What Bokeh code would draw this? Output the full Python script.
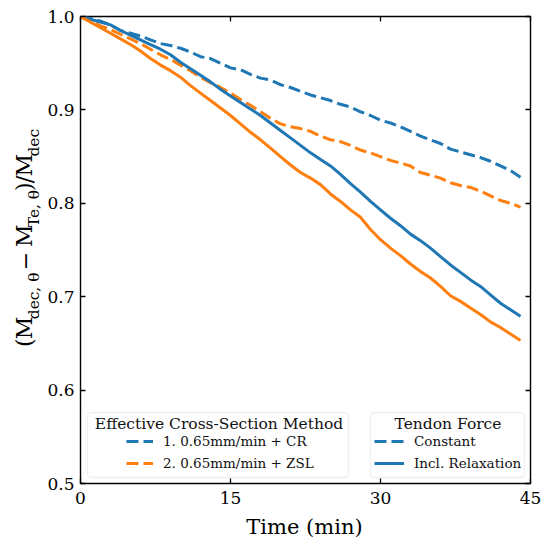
import math
from bokeh.plotting import figure
from bokeh.layouts import row, column
from bokeh.models import (Legend, LegendItem, Label, BoxAnnotation, FixedTicker, Range1d,
                          LinearAxis, PrintfTickFormatter)
from bokeh.embed import file_html
from bokeh.resources import INLINE

# ---------------- data ----------------
time_min = list(range(0, 45))

cr_constant = [1.000, 0.998, 0.995, 0.991, 0.985, 0.982, 0.979, 0.975, 0.971, 0.969,
               0.966, 0.962, 0.957, 0.955, 0.950, 0.945, 0.943, 0.938, 0.934, 0.932,
               0.927, 0.924, 0.920, 0.916, 0.913, 0.910, 0.906, 0.903, 0.898, 0.894,
               0.889, 0.886, 0.882, 0.877, 0.872, 0.868, 0.864, 0.858, 0.855, 0.852,
               0.849, 0.845, 0.840, 0.835, 0.828]

zsl_constant = [1.000, 0.995, 0.990, 0.986, 0.981, 0.976, 0.971, 0.965, 0.959, 0.954,
                0.948, 0.942, 0.935, 0.929, 0.924, 0.918, 0.911, 0.905, 0.898, 0.891,
                0.885, 0.882, 0.880, 0.877, 0.872, 0.868, 0.866, 0.862, 0.857, 0.854,
                0.850, 0.846, 0.843, 0.840, 0.833, 0.830, 0.827, 0.822, 0.819, 0.817,
                0.813, 0.808, 0.803, 0.800, 0.796]

cr_relax = [1.000, 0.997, 0.994, 0.991, 0.985, 0.980, 0.975, 0.970, 0.965, 0.959,
            0.951, 0.944, 0.937, 0.930, 0.922, 0.915, 0.908, 0.901, 0.894, 0.886,
            0.878, 0.870, 0.862, 0.854, 0.847, 0.840, 0.831, 0.821, 0.812, 0.802,
            0.793, 0.784, 0.776, 0.767, 0.760, 0.752, 0.743, 0.734, 0.726, 0.718,
            0.711, 0.702, 0.693, 0.686, 0.679]

zsl_relax = [1.000, 0.994, 0.988, 0.982, 0.976, 0.970, 0.963, 0.955, 0.948, 0.942,
             0.935, 0.926, 0.918, 0.910, 0.902, 0.894, 0.885, 0.876, 0.868, 0.859,
             0.850, 0.841, 0.833, 0.827, 0.820, 0.810, 0.802, 0.793, 0.785, 0.772,
             0.761, 0.752, 0.744, 0.735, 0.727, 0.720, 0.711, 0.701, 0.695, 0.688,
             0.681, 0.673, 0.667, 0.660, 0.653]

x_ticks = [0, 15, 30, 45]
y_ticks = [0.5, 0.6, 0.7, 0.8, 0.9, 1.0]

legend1_title = "Effective Cross-Section Method"
legend1_labels = ["1. 0.65mm/min + CR", "2. 0.65mm/min + ZSL"]
legend2_title = "Tendon Force"
legend2_labels = ["Constant", "Incl. Relaxation"]
x_label = "Time (min)"

# ---------------- style ----------------
BLUE = "#1f77b4"
ORANGE = "#ff7f0e"
SERIF = "DejaVu Serif"
LW = 3
DASH = "12 5"

YLAB_W = 44
MAIN_H = 513
TOTAL_W = 541
TOTAL_H = 539
FRAME_L = 79

p = figure(frame_width=450, frame_height=467,
           min_border_left=FRAME_L - YLAB_W,
           min_border_right=TOTAL_W - FRAME_L - 450,
           min_border_top=16, min_border_bottom=MAIN_H - 16 - 467,
           x_range=Range1d(0, 45), y_range=Range1d(0.5, 1.0),
           output_backend="svg", toolbar_location=None,
           background_fill_color="white", border_fill_color="white")

p.grid.visible = False
p.outline_line_color = "black"
p.outline_line_width = 1.4

for ax in (p.xaxis[0], p.yaxis[0]):
    ax.axis_label = None
    ax.axis_line_color = None
    ax.major_tick_in = 5
    ax.major_tick_out = 0
    ax.minor_tick_line_color = None
    ax.major_tick_line_color = "black"
    ax.major_tick_line_width = 1.3
    ax.major_label_text_font = SERIF
    ax.major_label_text_font_size = "17px"
    ax.major_label_text_color = "black"

p.xaxis[0].ticker = FixedTicker(ticks=x_ticks)
p.yaxis[0].ticker = FixedTicker(ticks=y_ticks)
p.yaxis[0].formatter = PrintfTickFormatter(format="%.1f")
p.xaxis[0].major_label_standoff = 8
p.yaxis[0].major_label_standoff = 6

for loc, tk in (("above", x_ticks), ("right", y_ticks)):
    a = LinearAxis(ticker=FixedTicker(ticks=tk), axis_line_color=None,
                   major_tick_in=5, major_tick_out=0, minor_tick_line_color=None,
                   major_tick_line_color="black", major_tick_line_width=1.3,
                   major_label_text_font_size="0px", major_label_standoff=0,
                   major_label_text_alpha=0)
    p.add_layout(a, loc)

# ---------------- lines ----------------
r_cr_c = p.line(time_min, cr_constant, line_color=BLUE, line_width=LW, line_dash=DASH)
r_zsl_c = p.line(time_min, zsl_constant, line_color=ORANGE, line_width=LW, line_dash=DASH)
r_cr_r = p.line(time_min, cr_relax, line_color=BLUE, line_width=LW)
r_zsl_r = p.line(time_min, zsl_relax, line_color=ORANGE, line_width=LW)

# ---------------- legends ----------------
box_kw = dict(fill_color="white", fill_alpha=0.8, line_color="#cccccc", line_width=1.3,
              border_radius=4)
p.add_layout(BoxAnnotation(left=0.7, right=26.8, bottom=0.5064, top=0.576, **box_kw))
p.add_layout(BoxAnnotation(left=29.0, right=44.4, bottom=0.5064, top=0.576, **box_kw))

leg_kw = dict(border_line_color=None, background_fill_alpha=0, padding=0, margin=0,
              spacing=6, label_height=14, glyph_height=14, label_standoff=10,
              label_text_font=SERIF, label_text_font_size="13.5px",
              label_text_color="#111111")
leg1 = Legend(items=[LegendItem(label=legend1_labels[0], renderers=[r_cr_c]),
                     LegendItem(label=legend1_labels[1], renderers=[r_zsl_c])],
              location=(46, 12), glyph_width=27, **leg_kw)
leg2 = Legend(items=[LegendItem(label=legend2_labels[0], renderers=[r_cr_c]),
                     LegendItem(label=legend2_labels[1], renderers=[r_cr_r])],
              location=(294, 12), glyph_width=30, **leg_kw)
p.add_layout(leg1)
p.add_layout(leg2)

title_kw = dict(text_font=SERIF, text_font_size="15.5px", text_align="center",
                text_baseline="middle", text_color="#111111")
p.add_layout(Label(x=13.85, y=0.5642, text=legend1_title, **title_kw))
p.add_layout(Label(x=36.75, y=0.5642, text=legend2_title, **title_kw))

# ---------------- y label panel (pixel coordinates) ----------------
ylab = figure(width=YLAB_W, height=MAIN_H, x_range=Range1d(0, YLAB_W),
              y_range=Range1d(MAIN_H, 0), x_axis_location=None, y_axis_location=None,
              min_border=0, outline_line_color=None, toolbar_location=None,
              output_backend="svg", background_fill_color="white",
              border_fill_color="white")
ylab.grid.visible = False

MAIN_PX = 22
SUB_PX = 15.4
main_x = 24.4   # em-box middle of the main text (baseline near x = 32)
sub_x = 33.2    # em-box middle of the subscripts (baseline near x = 38.5)
pieces = [("(", "m", 0.390), ("M", "m", 0.995), ("dec, θ", "s", 3.042), (None, "g", 7.0),
          ("−", "m", 0.838), (None, "g", 7.0), ("M", "m", 0.995), ("Te, θ", "s", 2.577),
          (")", "m", 0.390), ("/", "m", 0.337), ("M", "m", 0.995), ("dec", "s", 1.792)]
pos_px = 363.0
for txt, kind, w in pieces:
    if kind == "g":
        pos_px -= w
        continue
    size = MAIN_PX if kind == "m" else SUB_PX
    ylab.add_layout(Label(x=main_x if kind == "m" else sub_x, y=pos_px, text=txt,
                          angle=math.pi / 2, text_font=SERIF, text_font_size=f"{size}px",
                          text_align="left", text_baseline="middle", text_color="black"))
    pos_px -= w * size

# ---------------- x label panel ----------------
XLAB_H = TOTAL_H - MAIN_H
xlab = figure(width=TOTAL_W, height=XLAB_H, x_range=Range1d(0, TOTAL_W),
              y_range=Range1d(TOTAL_H, MAIN_H), x_axis_location=None, y_axis_location=None,
              min_border=0, outline_line_color=None, toolbar_location=None,
              output_backend="svg", background_fill_color="white",
              border_fill_color="white")
xlab.grid.visible = False
xlab.add_layout(Label(x=304, y=526, text=x_label, text_font=SERIF, text_font_size="21px",
                      text_align="center", text_baseline="middle", text_color="black"))

layout = column(row(ylab, p, spacing=0), xlab, spacing=0)
open("out.html", "w").write(file_html(layout, INLINE))
